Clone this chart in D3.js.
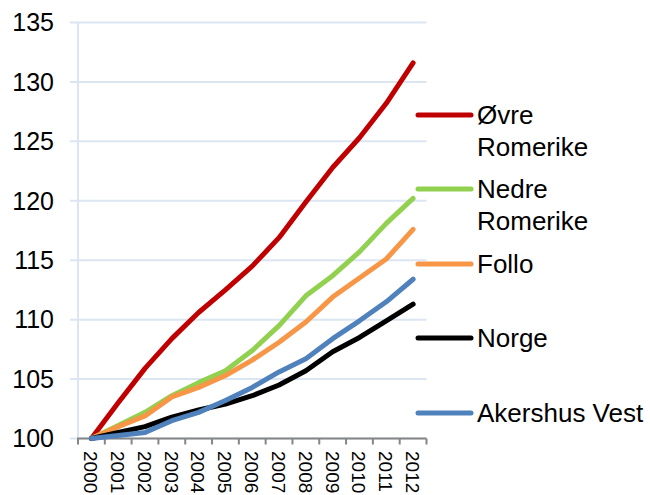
<!DOCTYPE html>
<html><head><meta charset="utf-8">
<script src="https://cdn.jsdelivr.net/npm/d3@7"></script>
<style>body{margin:0;background:#fff}svg{display:block}text{font-family:"Liberation Sans",Arial,sans-serif}</style>
</head><body><svg id="c" width="650" height="495"></svg>
<script>
const years = ["2000","2001","2002","2003","2004","2005","2006","2007","2008","2009","2010","2011","2012"];
const yTicks = [100,105,110,115,120,125,130,135];
const seriesNames = ["Øvre Romerike","Nedre Romerike","Follo","Norge","Akershus Vest"];
const legendLines = [["Øvre","Romerike"],["Nedre","Romerike"],["Follo"],["Norge"],["Akershus Vest"]];
const colors = ["#C00000","#92D050","#F79646","#000000","#4F81BD"];
const ovreRomerike = [100,103.0,105.9,108.4,110.6,112.5,114.5,116.9,119.9,122.8,125.3,128.2,131.6];
const nedreRomerike = [100,101.1,102.2,103.6,104.7,105.7,107.4,109.5,112.0,113.7,115.7,118.1,120.2];
const follo = [100,101.0,101.9,103.5,104.3,105.3,106.6,108.1,109.8,111.9,113.5,115.1,117.6];
const norge = [100,100.5,101.0,101.8,102.4,102.9,103.6,104.5,105.7,107.3,108.5,109.9,111.3];
const akershusVest = [100,100.25,100.5,101.5,102.2,103.2,104.3,105.6,106.7,108.4,109.9,111.5,113.4];
const seriesValues = [ovreRomerike,nedreRomerike,follo,norge,akershusVest];

const svg = d3.select("#c");
const L = 78, R = 426.5, T = 22.5, B = 438.5;
const x = d3.scaleBand().domain(years).range([L,R]);
const y = d3.scaleLinear().domain([100,135]).range([B,T]);

// gridlines
svg.append("g").selectAll("line").data(yTicks).join("line")
  .attr("x1",70).attr("x2",R).attr("y1",d=>y(d)).attr("y2",d=>y(d))
  .attr("stroke","#DCE6F2").attr("stroke-width",2);
// y axis line
svg.append("line").attr("x1",L).attr("x2",L).attr("y1",T).attr("y2",B)
  .attr("stroke","#DCE6F2").attr("stroke-width",2);
// y labels
svg.append("g").selectAll("text").data(yTicks).join("text")
  .attr("x",54).attr("y",d=>y(d)).attr("dy","0.35em").attr("text-anchor","end")
  .attr("font-size",25).attr("fill","#000").text(d=>d);

// x axis
const xa = svg.append("g").attr("transform",`translate(0,${B})`)
  .call(d3.axisBottom(x).tickSize(0).tickFormat(""));
xa.select(".domain").attr("stroke","#868686").attr("stroke-width",2).attr("d",`M${L-1},0H${R}`);
const bounds = years.map(d=>x(d)).concat([R]);
svg.append("g").selectAll("line").data(bounds).join("line")
  .attr("x1",d=>d).attr("x2",d=>d).attr("y1",B).attr("y2",B+6)
  .attr("stroke","#868686").attr("stroke-width",2);
svg.append("g").selectAll("text").data(years).join("text")
  .attr("transform",d=>`translate(${x(d)+x.bandwidth()/2-0.5},451) rotate(90)`)
  .attr("dy","0.35em").attr("font-size",19).attr("fill","#000").text(d=>d);

// lines
const line = d3.line().x((d,i)=>x(years[i])+x.bandwidth()/2).y(d=>y(d));
svg.append("g").selectAll("path").data(seriesValues).join("path")
  .attr("d",d=>line(d)).attr("fill","none")
  .attr("stroke",(d,i)=>colors[i]).attr("stroke-width",5)
  .attr("stroke-linejoin","round").attr("stroke-linecap","round");

// legend
const legY = [115,189,264,338,413];
const lg = svg.append("g").selectAll("g").data(seriesNames).join("g");
lg.append("line").attr("x1",418).attr("x2",471).attr("y1",(d,i)=>legY[i]).attr("y2",(d,i)=>legY[i])
  .attr("stroke",(d,i)=>colors[i]).attr("stroke-width",5).attr("stroke-linecap","round");
lg.each(function(d,i){
  const t = d3.select(this).append("text").attr("x",477).attr("y",legY[i]).attr("font-size",26).attr("fill","#000");
  legendLines[i].forEach((s,j)=>t.append("tspan").attr("x",477).attr("dy",j===0?"0.35em":"1.22em").text(s));
});
</script></body></html>
